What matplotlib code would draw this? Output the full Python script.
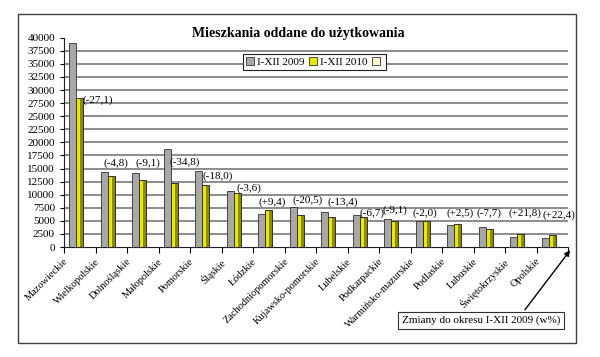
import matplotlib
matplotlib.use('Agg')
import matplotlib.pyplot as plt
import matplotlib.transforms as mtransforms
from matplotlib.patches import Patch, Rectangle
import numpy as np

plt.rcParams['font.family'] = ['Liberation Serif', 'DejaVu Serif']

regions = ['Mazowieckie', 'Wielkopolskie', 'Dolnośląskie', 'Małopolskie', 'Pomorskie',
           'Śląskie', 'Łódzkie', 'Zachodniopomorskie', 'Kujawsko-pomorskie', 'Lubelskie',
           'Podkarpackie', 'Warmińsko-mazurskie', 'Podlaskie', 'Lubuskie',
           'Świętokrzyskie', 'Opolskie']
y2009 = [39000, 14300, 14200, 18800, 14500, 10700, 6400, 7700, 6700, 6100,
         5400, 5000, 4300, 3800, 2000, 1800]
y2010 = [28400, 13600, 12900, 12300, 11800, 10300, 7000, 6100, 5800, 5700,
         4900, 4900, 4400, 3500, 2400, 2200]
# third (hidden) series that carries the change labels
label_series = [28000, 16100, 16100, 16300, 13600, 11300, 8600, 9000, 8600, 6500,
                7100, 6500, 6500, 6500, 6500, 6100]
changes = ['(-27,1)', '(-4,8)', '(-9,1)', '(-34,8)', '(-18,0)', '(-3,6)', '(+9,4)',
           '(-20,5)', '(-13,4)', '(-6,7)', '(-9,1)', '(-2,0)', '(+2,5)', '(-7,7)',
           '(+21,8)', '(+22,4)']
# horizontal shift of each label from the category centre (px), as dragged in the original
label_dx = [3, 5, 5.5, 10, 11.5, 12, 3.5, 7, 11, 9, 0.5, -1, 2, 0, 4, 6.5]

fig = plt.figure(figsize=(6, 3.57), dpi=100)
fig.patch.set_facecolor('white')
# outer frame
fig.patches.append(Rectangle((0.03, 0.039), 0.93, 0.922, transform=fig.transFigure,
                             fill=False, edgecolor='#404040', linewidth=1.0))

ax = fig.add_axes([0.1067, 0.3081, 0.84, 0.5863])
x = np.arange(len(regions))
w = 0.222

ax.bar(x - w, y2009, width=w, color='#a8a8a8', edgecolor='#303030', linewidth=0.6, zorder=3)
ax.bar(x, y2010, width=w, color='#e8e800', edgecolor='#303030', linewidth=0.6, zorder=3)
# darker right side for the pseudo-3D look
ax.bar(x + w * 0.3, y2010, width=w * 0.4, color='#8c8c00', linewidth=0, zorder=3)
ax.bar(x, y2010, width=w, color='none', edgecolor='#303030', linewidth=0.6, zorder=4)

px = 1 / 31.5  # one pixel in category units
for i, (v, t) in enumerate(zip(label_series, changes)):
    if i == 0:
        ax.text(x[i] + label_dx[i] * px, v, t, ha='left', va='center', fontsize=8, zorder=5)
    else:
        ax.text(x[i] + label_dx[i] * px, v, t, ha='center', va='center', fontsize=8, zorder=5)

ax.set_xlim(-0.5, len(regions) - 0.5)
ax.set_ylim(0, 40000)
ax.set_yticks(np.arange(0, 40001, 2500))
ax.tick_params(axis='y', labelsize=8, length=3, direction='out', width=0.8)
ax.yaxis.grid(True, color='#6e6e6e', linewidth=1.1, zorder=0)
ax.set_axisbelow(True)
glines = ax.get_ygridlines()
glines[-1].set_visible(False)
glines[0].set_visible(False)

ax.set_xticks(np.arange(-0.5, len(regions), 1.0), minor=False)
ax.set_xticklabels([])
ax.tick_params(axis='x', length=4, direction='out', width=0.8)
ax.set_xticks(x, minor=True)
ax.set_xticklabels(regions, minor=True, rotation=45, ha='right', fontsize=7.5)
ax.tick_params(axis='x', which='minor', length=0, pad=7)
offset = mtransforms.ScaledTranslation(-0.1, 0, fig.dpi_scale_trans)
for lab in ax.get_xticklabels(minor=True):
    lab.set_transform(lab.get_transform() + offset)

for s in ['top', 'right']:
    ax.spines[s].set_visible(False)
ax.spines['left'].set_color('#202020')
ax.spines['bottom'].set_color('#202020')

fig.text(0.497, 0.907, 'Mieszkania oddane do użytkowania', ha='center', va='center',
         fontsize=10, fontweight='bold')

handles = [Patch(facecolor='#a8a8a8', edgecolor='#303030', linewidth=0.6),
           Patch(facecolor='#e8e800', edgecolor='#303030', linewidth=0.6),
           Patch(facecolor='#ffffcc', edgecolor='#303030', linewidth=0.6)]
leg = fig.legend(handles, ['I-XII 2009', 'I-XII 2010', ''], ncol=3,
                 loc='center', bbox_to_anchor=(0.524, 0.826), fontsize=8,
                 handlelength=0.7, handleheight=0.7, handletextpad=0.3,
                 columnspacing=0.4, borderpad=0.3, fancybox=False, framealpha=1)
leg.get_frame().set_edgecolor('#202020')
leg.get_frame().set_linewidth(0.8)

fig.text(0.802, 0.102, 'Zmiany do okresu I-XII 2009 (w%)', ha='center', va='center',
         fontsize=8, bbox=dict(boxstyle='square,pad=0.35', facecolor='white',
                               edgecolor='#303030', linewidth=0.8))
ax.annotate('', xy=(0.953, 0.305), xycoords='figure fraction',
            xytext=(0.872, 0.126), textcoords='figure fraction',
            arrowprops=dict(arrowstyle='-|>', color='black', linewidth=1.0,
                            mutation_scale=8))

plt.savefig('out.png', dpi=100)
plt.close()
